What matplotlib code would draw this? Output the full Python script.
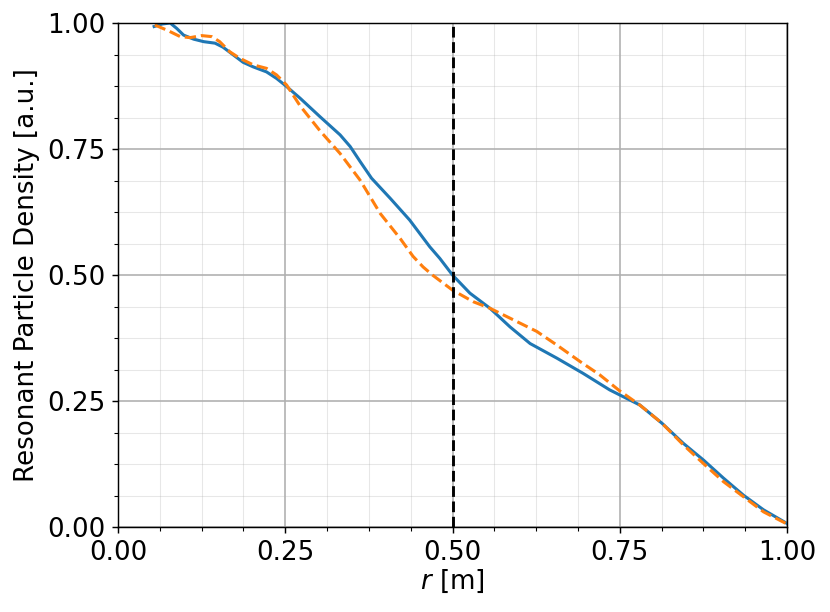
import matplotlib
matplotlib.use("Agg")
import matplotlib.pyplot as plt
from matplotlib.ticker import AutoMinorLocator

# radial coordinate and density profiles
r_solid = [0.054, 0.066, 0.078, 0.088, 0.098, 0.113, 0.128, 0.145, 0.157, 0.172,
           0.187, 0.202, 0.222, 0.237, 0.252, 0.272, 0.302, 0.332, 0.347, 0.362,
           0.379, 0.407, 0.436, 0.466, 0.481, 0.500, 0.526, 0.556, 0.586, 0.616,
           0.656, 0.695, 0.735, 0.762, 0.780, 0.813, 0.845, 0.875, 0.905, 0.935,
           0.965, 1.0]
dens_solid = [0.993, 0.998, 1.0, 0.989, 0.976, 0.968, 0.963, 0.960, 0.952, 0.937,
              0.922, 0.913, 0.903, 0.890, 0.874, 0.851, 0.814, 0.778, 0.755, 0.725,
              0.692, 0.652, 0.609, 0.556, 0.533, 0.500, 0.464, 0.434, 0.397, 0.364,
              0.335, 0.305, 0.272, 0.254, 0.242, 0.206, 0.166, 0.133, 0.097, 0.063,
              0.034, 0.007]

r_dashed = [0.055, 0.073, 0.093, 0.108, 0.125, 0.140, 0.152, 0.167, 0.182, 0.202,
            0.222, 0.237, 0.252, 0.272, 0.302, 0.332, 0.362, 0.392, 0.422, 0.441,
            0.456, 0.470, 0.485, 0.500, 0.531, 0.556, 0.591, 0.626, 0.656, 0.691,
            0.720, 0.750, 0.780, 0.813, 0.845, 0.875, 0.905, 0.935, 0.965, 1.0]
dens_dashed = [0.996, 0.986, 0.973, 0.971, 0.975, 0.973, 0.963, 0.943, 0.930, 0.917,
               0.910, 0.897, 0.877, 0.836, 0.786, 0.741, 0.688, 0.622, 0.572, 0.537,
               0.516, 0.500, 0.485, 0.470, 0.447, 0.434, 0.411, 0.388, 0.361, 0.328,
               0.302, 0.270, 0.242, 0.206, 0.163, 0.126, 0.090, 0.060, 0.030, 0.006]

r_mark = 0.5

plt.rcParams['font.size'] = 14.5

fig = plt.figure(figsize=(830 / 130, 612 / 130), dpi=130)
ax = fig.add_axes([118 / 830, 1 - 527 / 612, 669 / 830, 504 / 612])

ax.plot(r_solid, dens_solid, color='tab:blue', lw=1.7)
ax.plot(r_dashed, dens_dashed, color='tab:orange', lw=1.7, ls='--')
ax.axvline(r_mark, color='black', ls='--', lw=1.6)

ax.set_xlim(0, 1)
ax.set_ylim(0, 1)
ax.set_xticks([0, 0.25, 0.5, 0.75, 1.0])
ax.set_yticks([0, 0.25, 0.5, 0.75, 1.0])
ax.xaxis.set_minor_locator(AutoMinorLocator(4))
ax.yaxis.set_minor_locator(AutoMinorLocator(4))
ax.grid(which='major', color='#b0b0b0', lw=0.9)
ax.grid(which='minor', color='#b0b0b0', lw=0.6, alpha=0.3)
ax.set_axisbelow(True)

ax.set_xlabel(r'$r$ [m]', labelpad=1)
ax.set_ylabel('Resonant Particle Density [a.u.]', labelpad=4)

fig.savefig('out.png', dpi=130)
